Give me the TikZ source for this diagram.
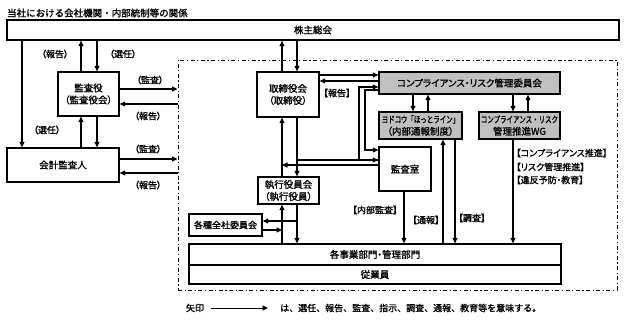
\documentclass[tikz,border=0pt]{standalone}
\usepackage{fontspec}
\newfontfamily\jp[FakeBold=1.4,RawFeature=+palt]{Noto Sans CJK JP}
\newfontfamily\jpfull[FakeBold=1.4]{Noto Sans CJK JP}
\newfontfamily\jpnarrow[FakeBold=1.4,FakeStretch=0.72]{Noto Sans CJK JP}
\definecolor{ink}{RGB}{0,0,0}
\definecolor{panel}{RGB}{192,192,192}
\usetikzlibrary{arrows.meta,calc}
\tikzset{
  box/.style={draw=ink, line width=1.3pt, fill=white, inner sep=0pt, align=center,
              font=\jp\fontsize{9.5}{12}\selectfont},
  greybox/.style={box, fill=panel},
  tagtext/.style={inner sep=0pt, text=ink, font=\jp\fontsize{9}{11}\selectfont},
  flow/.style={-{Triangle[length=5.5pt,width=5pt]}, line width=1.1pt, ink},
  dashframe/.style={draw=ink, line width=0.9pt, inner sep=0pt,
              dash pattern=on 4pt off 2.5pt on 1.2pt off 2.5pt},
}

\begin{document}
\begin{tikzpicture}[x=1pt, y=-1pt]
  \useasboundingbox (0,0) rectangle (625,321);
  \node[anchor=west, inner sep=0pt, font=\jpfull\fontsize{9.5}{11}\selectfont] (title) at (7,13)
    {当社における会社機関・内部統制等の関係};
  % ===================== boxes =====================
  \node[box, minimum width=612pt, minimum height=20pt] (kabu) at (313,30) {株主総会};
  \node[dashframe, minimum width=439pt, minimum height=230pt] (naibu) at (397.5,175) {};
  \node[box, minimum width=61pt, minimum height=44pt] (kansa) at (88.5,94) {監査役\\（監査役会）};
  \node[box, minimum width=112pt, minimum height=34pt] (kaikei) at (63,165) {会計監査人};
  \node[box, minimum width=62pt, minimum height=45pt] (torishimari) at (288,94.5) {取締役会\\（取締役）};
  \node[greybox, minimum width=181pt, minimum height=22pt] (comp) at (469.5,83)
    {コンプライアンス・リスク管理委員会};
  \node[greybox, minimum width=83pt, minimum height=27pt] (hot) at (420.5,125.5)
    {{\jpnarrow\fontsize{9}{12}\selectfont ヨドコウ「ほっとライン」}\\（内部通報制度）};
  \node[greybox, minimum width=81pt, minimum height=27pt] (wg) at (519.5,125.5)
    {{\jpnarrow\fontsize{9}{12}\selectfont コンプライアンス・リスク}\\管理推進WG};
  \node[box, minimum width=52pt, minimum height=44pt] (kansashitsu) at (405,169) {監査室};
  \node[box, minimum width=61pt, minimum height=27pt] (shikkou) at (288.5,190.5) {執行役員会\\（執行役員）};
  \node[box, minimum width=73pt, minimum height=22pt, font=\jp\fontsize{9}{11}\selectfont]
    (kakushu) at (225.5,225) {各種全社委員会};
  \node[box, minimum width=372pt, minimum height=21pt] (jigyo) at (375,254.5) {各事業部門・管理部門};
  \node[box, minimum width=372pt, minimum height=19pt] (jugyo) at (375,274.5) {従業員};
  % ===================== auditors =====================
  \draw[flow] (kansa.north -| 81,0) -- (kabu.south -| 81,0);
  \draw[flow] (kabu.south -| 97,0) -- (kansa.north -| 97,0);
  \draw[flow] (kabu.south -| 22,0) -- (kaikei.north -| 22,0);
  \draw[flow] (kaikei.north -| 81,0) -- (kansa.south -| 81,0);
  \draw[flow] (kansa.south -| 97,0) -- (kaikei.north -| 97,0);
  \draw[flow] (kansa.east |- 0,89) -- (naibu.west |- 0,89);
  \draw[flow] (naibu.west |- 0,104) -- (kansa.east |- 0,104);
  \draw[flow] (kaikei.east |- 0,159) -- (naibu.west |- 0,159);
  \draw[flow] (naibu.west |- 0,173) -- (kaikei.east |- 0,173);
  \node[tagtext] (lhokoku) at (55,54) {（報告）};
  \node[tagtext] (lsennin) at (123,54) {（選任）};
  \node[tagtext] (lsennin2) at (47,130) {（選任）};
  \node[tagtext] (lkansa) at (150,80) {（監査）};
  \node[tagtext] (lhokoku2) at (148,116) {（報告）};
  \node[tagtext] (lkansa2) at (148,149) {（監査）};
  \node[tagtext] (lhokoku3) at (148,185) {（報告）};
  % ===================== board and officers =====================
  \coordinate (t1) at (297,160);
  \coordinate (t2) at (282,165);
  \coordinate (t3) at (297,221);
  \coordinate (t4) at (282,230);
  \draw[flow] (torishimari.north -| 282,0) -- (kabu.south -| 282,0);
  \draw[flow] (kabu.south -| 297,0) -- (torishimari.north -| 297,0);
  \draw[flow] (torishimari.east |- 0,75) -- (comp.west |- 0,75);
  \draw[flow] (comp.west |- 0,81) -- (torishimari.east |- 0,81);
  \node[tagtext] (lhokoku4) at (337,93) {【報告】};
  \draw[flow] (shikkou.north -| 282,0) -- (torishimari.south -| 282,0);
  \draw[flow] (torishimari.south -| 297,0) -- (shikkou.north -| 297,0);
  \draw[flow] (jigyo.north -| 282,0) -- (shikkou.south -| 282,0);
  \draw[flow] (shikkou.south -| 297,0) -- (jigyo.north -| 297,0);
  \draw[flow] (t3) -- (kakushu.east |- t3);
  \draw[flow] (kakushu.east |- t4) -- (t4);
  \draw[flow] (t1) -- (kansashitsu.west |- t1);
  \draw[flow] (kansashitsu.west |- t2) -- (t2);
  % ===================== committee =====================
  \draw[flow] (comp.west |- 0,90) -| (365,150) -- (kansashitsu.west |- 0,150);
  \draw[flow] (kansashitsu.west |- t1) -| (359,87) -- (comp.west |- 0,87);
  \draw[flow] (comp.south -| 413,0) -- (hot.north -| 413,0);
  \draw[flow] (hot.north -| 428,0) -- (comp.south -| 428,0);
  \draw[flow] (comp.south -| 513,0) -- (wg.north -| 513,0);
  \draw[flow] (wg.north -| 528,0) -- (comp.south -| 528,0);
  \draw[flow] (wg.south -| 513,0) -- (jigyo.north -| 513,0);
  \draw[flow] (jigyo.north -| 443,0) -- (hot.south -| 443,0);
  \draw[flow] (hot.south -| 455,0) -- (jigyo.north -| 455,0);
  \draw[flow] (kansashitsu.south -| 404,0) -- (jigyo.north -| 404,0);
  \node[tagtext] (lnaibu) at (375,210) {【内部監査】};
  \node[tagtext] (ltsuho) at (426,220) {【通報】};
  \node[tagtext] (lchosa) at (472,218) {【調査】};
  \node[tagtext, anchor=west] (lsuishin) at (516,153) {【コンプライアンス推進】};
  \node[tagtext, anchor=west] (lrisk) at (516,167) {【リスク管理推進】};
  \node[tagtext, anchor=west] (lihan) at (516,180) {【違反予防・教育】};
  % ===================== legend =====================
  \node[tagtext, font=\jpfull\fontsize{9}{11}\selectfont] (yajirushi) at (195,308) {矢印};
  \node[tagtext, anchor=west, font=\jpfull\fontsize{9}{11}\selectfont] (imi) at (280,308)
    {は、選任、報告、監査、指示、調査、通報、教育等を意味する。};
  \draw[flow, line width=0.8pt] ([xshift=7pt]yajirushi.east) -- ([xshift=-12pt]imi.west);
\end{tikzpicture}
\end{document}
